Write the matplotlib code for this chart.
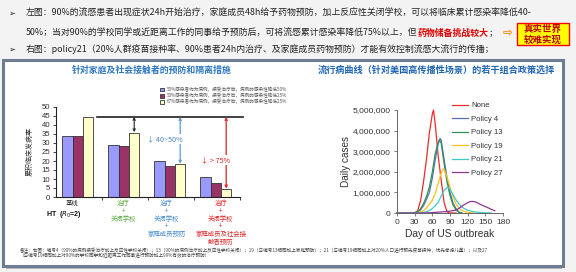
import matplotlib
matplotlib.use('Agg')
import matplotlib.pyplot as plt
from matplotlib.patches import Rectangle
from matplotlib.ticker import FuncFormatter

plt.rcParams['font.family'] = ['Noto Sans CJK SC', 'DejaVu Sans']

# ---- left chart data (cumulative clinical attack rate, %) ----
groups = ['基线', '治疗\n+\n关闭学校', '治疗\n+\n关闭学校\n+\n家庭成员预防',
          '治疗\n+\n关闭学校\n+\n家庭成员及社会接\n触者预防']
group_colors = ['#222222', '#5BAA3E', '#3F86CC', '#E42222']
series_labels = ['50%感染者作为病例，接受治疗后，病例的感染性降低50%',
                 '50%感染者作为病例，接受治疗后，病例的感染性降低25%',
                 '67%感染者作为病例，接受治疗后，病例的感染性降低25%']
rate_a = [34, 29, 20, 11]
rate_b = [34, 28.2, 17.2, 8]
rate_c = [44.3, 35.4, 18.1, 4.3]
ref_level = 44.5

# ---- right chart data (daily cases, millions) ----
policy_names = ['None', 'Policy 4', 'Policy 13', 'Policy 19', 'Policy 21', 'Policy 27']
days_none = [0, 25, 30, 35, 40, 45, 50, 55, 60, 62, 65, 70, 75, 80, 85, 90, 100]
cases_none = [0, 0, 0.01, 0.1, 0.6, 1.5, 2.6, 3.9, 4.8, 5.0, 4.3, 2.75, 1.6, 0.5, 0.05, 0, 0]
days_p4 = [0, 30, 35, 40, 45, 50, 55, 60, 65, 70, 73, 75, 80, 85, 90, 95, 100, 105, 110]
cases_p4 = [0, 0.01, 0.05, 0.15, 0.35, 0.65, 1.0, 1.7, 2.6, 3.35, 3.62, 3.55, 2.6, 1.7, 1.0,
            0.5, 0.22, 0.05, 0]
days_p13 = [0, 30, 35, 40, 45, 50, 55, 60, 65, 70, 72, 75, 80, 85, 90, 95, 100, 105, 110]
cases_p13 = [0, 0.02, 0.07, 0.2, 0.45, 0.8, 1.25, 2.0, 2.9, 3.45, 3.55, 3.4, 2.4, 1.5, 0.85,
             0.4, 0.15, 0.03, 0]
days_p19 = [0, 30, 35, 40, 45, 50, 55, 60, 65, 70, 75, 79, 80, 85, 90, 95, 100, 105, 110,
            115, 120, 130]
cases_p19 = [0, 0, 0.02, 0.05, 0.12, 0.25, 0.42, 0.62, 0.95, 1.45, 1.95, 2.15, 2.12, 1.75,
             1.25, 0.8, 0.45, 0.25, 0.13, 0.06, 0.03, 0]
days_p21 = [0, 40, 45, 50, 55, 60, 65, 70, 75, 80, 86, 90, 95, 100, 105, 110, 115, 120, 130,
            140, 150, 160]
cases_p21 = [0, 0.01, 0.03, 0.06, 0.12, 0.22, 0.35, 0.52, 0.82, 1.1, 1.25, 1.15, 0.9, 0.65,
             0.45, 0.3, 0.2, 0.13, 0.06, 0.03, 0.01, 0]
days_p27 = [0, 30, 50, 60, 70, 80, 90, 100, 105, 110, 115, 120, 125, 130, 135, 140, 145, 150,
            155, 160, 166]
cases_p27 = [0, 0, 0.005, 0.02, 0.04, 0.06, 0.09, 0.14, 0.22, 0.32, 0.42, 0.5, 0.56, 0.56,
             0.52, 0.44, 0.37, 0.31, 0.25, 0.18, 0.11]
policy_colors = ['#EE2B2F', '#5B6FB5', '#2F9156', '#FFC21A', '#3DCACA', '#8B3595']

W, H = 576, 272
def fx(x):
    return x / W
def fy(y):
    return 1 - y / H

fig = plt.figure(figsize=(W / 100, H / 100), dpi=100, facecolor='#F3F3F3')

# slide frame (kept behind the axes)
fig.patches.append(Rectangle((fx(6), fy(269)), fx(562) - fx(6), fy(63) - fy(269),
                             transform=fig.transFigure, facecolor='#B5B5B5', edgecolor='none',
                             zorder=-3))
fig.patches.append(Rectangle((fx(3), fy(266)), fx(563) - fx(3), fy(60) - fy(266),
                             transform=fig.transFigure, facecolor='white',
                             edgecolor='#6E7E92', lw=2.2, zorder=-2))

# ---- top bullet text ----
fig.canvas.draw()
rend = fig.canvas.get_renderer()

def text_run(x, y, parts, size=6.4):
    for s, color, weight in parts:
        t = fig.text(fx(x), fy(y), s, fontsize=size, color=color, fontweight=weight,
                     va='center', ha='left')
        x = t.get_window_extent(renderer=rend).x1

for yy in [13, 49]:
    fig.text(fx(8), fy(yy), '➢', fontsize=6, va='center', color='#222222',
             family=['DejaVu Sans'])
text_run(26, 13, [('左图：90%的流感患者出现症状24h开始治疗，家庭成员48h给予药物预防，'
                   '加上反应性关闭学校，可以将临床累计感染率降低40-', '#222222', 'normal')])
text_run(26, 33, [('50%；当对90%的学校同学或近距离工作的同事给予预防后，可将流感累计感染率降低75%以上，但',
                   '#222222', 'normal'),
                  ('药物储备挑战较大', '#E00000', 'bold'),
                  ('；', '#222222', 'normal')])
text_run(26, 49, [('右图：policy21（20%人群疫苗接种率、90%患者24h内治疗、及家庭成员药物预防）'
                   '才能有效控制流感大流行的传播；', '#222222', 'normal')])
fig.text(fx(507), fy(33), '⇨', fontsize=8.5, color='#FF8A00', va='center', ha='center',
         family=['DejaVu Sans'], fontweight='bold')
fig.patches.append(Rectangle((fx(517), fy(45)), fx(569) - fx(517), fy(23) - fy(45),
                             transform=fig.transFigure, facecolor='#FFFF00',
                             edgecolor='#FF0000', lw=1))
fig.text(fx(543), fy(34), '真实世界\n较难实现', fontsize=6.8, color='#C00000',
         fontweight='bold', ha='center', va='center', linespacing=1.1)

# ---- left chart ----
ax1 = fig.add_axes([fx(56), fy(197), (240 - 56) / W, (197 - 107) / H])
ax1.patch.set_alpha(0)
bw = 0.225
bars = []
for k, (vals, col) in enumerate(zip([rate_a, rate_b, rate_c],
                                    ['#9999FF', '#993366', '#FFFFCC'])):
    xs = [i + 0.14 + k * bw for i in range(len(groups))]
    bars.append(ax1.bar(xs, vals, width=bw, align='edge', color=col,
                        edgecolor='#333333', lw=0.6))
ax1.set_xlim(0, 4)
ax1.set_ylim(0, 50)
ax1.set_yticks(range(0, 51, 5))
ax1.set_xticks([1, 2, 3, 4])
ax1.set_xticklabels([])
ax1.tick_params(axis='both', length=2.5, width=0.6, color='#222222', labelsize=5.6,
                labelcolor='#333333', pad=1.5)
for lab in ax1.get_yticklabels():
    lab.set_family('Liberation Sans')
for s in ['top', 'right']:
    ax1.spines[s].set_visible(False)
for s in ['left', 'bottom']:
    ax1.spines[s].set_linewidth(0.8)
    ax1.spines[s].set_color('#222222')
ax1.set_ylabel('累积临床发病率', fontsize=5, color='#333333', labelpad=6)

ax1.plot([0.89, 4.07], [ref_level, ref_level], color='#222222', lw=1.2, clip_on=False)
ax1.annotate('', xy=(1.70, rate_c[1] + 0.6), xytext=(1.70, ref_level),
             arrowprops=dict(arrowstyle='<->', color='#222222', lw=0.8,
                             mutation_scale=4, shrinkA=0, shrinkB=0))
ax1.annotate('', xy=(2.70, rate_c[2] + 0.4), xytext=(2.70, ref_level),
             arrowprops=dict(arrowstyle='<->', color='#5B9BD5', lw=0.9,
                             mutation_scale=4, shrinkA=0, shrinkB=0), annotation_clip=False)
ax1.annotate('', xy=(3.70, rate_c[3] + 0.4), xytext=(3.70, ref_level),
             arrowprops=dict(arrowstyle='<->', color='#E42222', lw=0.9,
                             mutation_scale=4, shrinkA=0, shrinkB=0), annotation_clip=False)
ax1.text(2.76, 32.2, '↓ 40~50%', fontsize=5.2, color='#4A86C8', ha='right', va='center',
         bbox=dict(facecolor='white', edgecolor='none', pad=0.5), clip_on=False)
ax1.text(3.78, 20.5, '↓ > 75%', fontsize=5.2, color='#E42222', ha='right', va='center',
         bbox=dict(facecolor='white', edgecolor='none', pad=0.5), clip_on=False)

label_x = [0.35, 1.46, 2.40, 3.58]
for i, (lab, col) in enumerate(zip(groups, group_colors)):
    ax1.text(label_x[i], -1.3, lab, fontsize=4.6, color=col, ha='center', va='top',
             linespacing=0.95, clip_on=False)
fig.text(fx(64), fy(215), 'HT  ($R_0$=2)', fontsize=5, fontweight='bold', ha='center',
         va='center', color='#111111', family=['Liberation Sans'])

leg1 = ax1.legend([b[0] for b in bars], series_labels, loc='upper left',
                  bbox_to_anchor=(fx(160), fy(87)), bbox_transform=fig.transFigure,
                  fontsize=3.3, frameon=False, handlelength=0.9, handleheight=0.9,
                  handletextpad=0.6, labelspacing=0.25, borderpad=0, borderaxespad=0)
for t in leg1.get_texts():
    t.set_color('#555555')

fig.text(fx(152), fy(70), '针对家庭及社会接触者的预防和隔离措施', fontsize=6.4,
         fontweight='bold', color='#2E78C0', ha='center', va='center')

# ---- right chart ----
ax2 = fig.add_axes([fx(397), fy(213), (503 - 397) / W, (213 - 110) / H])
ax2.patch.set_alpha(0)
series = [(days_none, cases_none), (days_p4, cases_p4), (days_p13, cases_p13),
          (days_p19, cases_p19), (days_p21, cases_p21), (days_p27, cases_p27)]
lines = []
for (d, c), name, col in zip(series, policy_names, policy_colors):
    ln, = ax2.plot(d, [v * 1e6 for v in c], color=col, lw=0.9, label=name, clip_on=False)
    lines.append(ln)
ax2.set_xlim(0, 180)
ax2.set_ylim(0, 5e6)
ax2.set_xticks(range(0, 181, 30))
ax2.set_yticks(range(0, 5000001, 1000000))
ax2.yaxis.set_major_formatter(FuncFormatter(lambda v, p: f'{int(v):,}'))
ax2.tick_params(axis='both', length=2.5, width=0.6, color='#666666', labelsize=6,
                labelcolor='#333333', pad=2)
for lab in ax2.get_xticklabels() + ax2.get_yticklabels():
    lab.set_family('Liberation Sans')
for s in ['top', 'right']:
    ax2.spines[s].set_visible(False)
for s in ['left', 'bottom']:
    ax2.spines[s].set_linewidth(0.7)
    ax2.spines[s].set_color('#666666')
ax2.set_ylabel('Daily cases', fontsize=7.2, color='#333333', family=['Liberation Sans'],
               labelpad=1.5)
ax2.set_xlabel('Day of US outbreak', fontsize=7.4, color='#333333',
               family=['Liberation Sans'], labelpad=2)
leg2 = ax2.legend(handles=lines, loc='upper left', bbox_to_anchor=(fx(452), fy(102)),
                  bbox_transform=fig.transFigure, frameon=False,
                  handlelength=2.0, handletextpad=0.5, labelspacing=0.78,
                  borderpad=0, borderaxespad=0, prop={'family': 'Liberation Sans', 'size': 5.6})
for t in leg2.get_texts():
    t.set_color('#333333')

fig.text(fx(436), fy(70), '流行病曲线（针对美国高传播性场景）的若干组合政策选择', fontsize=6.6,
         fontweight='bold', color='#1F66B5', ha='center', va='center')

# ---- footnote ----
fig.text(fx(20), fy(253), '备注：右图：编号4（90%的病例接受治疗加上反应性学校关闭）；13（90%的病例治疗加上反应性学校关闭）；'
         '19（与编号13相同加上家庭预防）；21（与编号19相同加上对20%人口进行预先疫苗接种，优先考虑儿童）；以及27\n'
         '（与编号19相同加上对90%的学校同学和近距离工作同事进行预防加上99%有效的治疗预防）',
         fontsize=3.3, color='#444444', ha='left', va='center', linespacing=1.2)

fig.savefig('out.png', dpi=100, facecolor=fig.get_facecolor())
